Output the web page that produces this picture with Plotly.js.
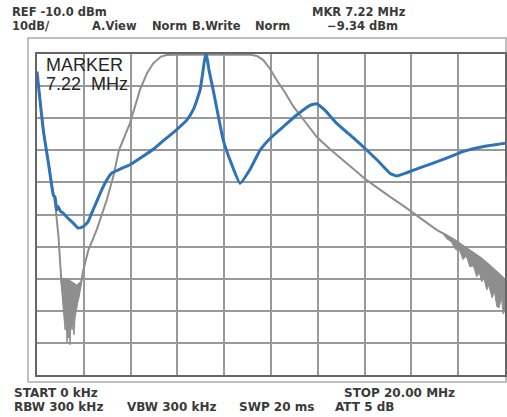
<!DOCTYPE html>
<html>
<head>
<meta charset="utf-8">
<script src="https://cdn.plot.ly/plotly-3.0.1.min.js"></script>
<style>html,body{margin:0;padding:0;background:#fff;}#chart{width:507px;height:417px;}</style>
</head>
<body>
<div id="chart"></div>
<script>
// Frequency in MHz, level in dBm
var blueFreq = [0.0, 0.27, 0.5, 0.7, 0.77, 0.84, 0.9, 1.0, 1.11, 1.3, 1.54, 1.75, 1.9, 2.05, 2.2, 2.34, 2.55, 2.76, 3.0, 3.19, 3.5, 3.97, 4.5, 5.0, 5.4, 5.9, 6.4, 6.7, 6.97, 7.1, 7.22, 7.35, 7.53, 7.96, 8.3, 8.68, 9.1, 9.53, 10.0, 10.53, 11.1, 11.67, 11.95, 12.3, 12.81, 13.5, 14.09, 14.6, 15.09, 15.37, 15.8, 16.5, 17.3, 18.2, 19.1, 20.0];
var blueLevel = [-15.5, -33.7, -44.5, -54.0, -54.5, -58.6, -57.5, -59.0, -59.5, -61.0, -62.6, -64.2, -64.0, -63.3, -62.0, -59.5, -56.0, -52.4, -49.0, -47.1, -46.0, -44.5, -42.0, -39.5, -37.0, -34.0, -30.6, -27.0, -21.2, -15.0, -9.34, -15.0, -21.2, -36.8, -44.0, -50.3, -46.0, -40.0, -36.0, -32.6, -29.0, -26.0, -25.5, -27.5, -31.6, -36.0, -39.9, -43.5, -47.2, -48.0, -47.0, -45.1, -43.0, -40.4, -38.8, -37.8];

// main gray response
var grayFreq = [0.0, 0.27, 0.5, 0.7, 0.78, 0.85, 0.92, 0.98, 1.05, 1.4, 1.75, 1.98, 2.2, 2.55, 2.98, 3.26, 3.5, 3.97, 4.4, 4.7, 4.97, 5.3, 5.54, 6.0, 7.0, 8.0, 9.1, 9.4, 9.67, 9.95, 10.24, 10.6, 10.96, 11.5, 11.95, 12.5, 13.09, 13.6, 14.09, 14.6, 15.09, 15.6, 16.09, 16.6, 17.08, 17.5, 17.9, 18.3, 18.7, 19.1, 19.5, 19.8, 20.0];
var grayLevel = [-15.5, -33.7, -44.5, -54.0, -57.0, -62.0, -67.0, -74.0, -81.4, -84.0, -86.6, -77.3, -71.0, -64.8, -55.5, -48.2, -40.0, -31.6, -21.2, -16.0, -12.9, -10.8, -10.3, -10.2, -10.2, -10.2, -10.2, -10.6, -11.9, -14.5, -18.1, -22.0, -26.4, -31.5, -35.8, -39.5, -43.0, -46.3, -49.3, -52.0, -54.5, -57.0, -59.6, -62.2, -64.8, -66.5, -69.0, -71.0, -73.0, -75.0, -77.5, -79.0, -80.5];

// noisy clump at the low-frequency notch (outline)
var noiseLowFreq = [1.0, 1.05, 1.11, 1.2, 1.25, 1.28, 1.32, 1.35, 1.38, 1.41, 1.45, 1.5, 1.54, 1.58, 1.63, 1.67, 1.75, 1.85, 1.92, 1.7, 1.5, 1.3, 1.1, 1.0];
var noiseLowLevel = [-79.0, -84.0, -89.7, -96.0, -93.0, -100.0, -97.0, -98.5, -95.0, -100.6, -94.0, -96.0, -91.0, -97.5, -92.0, -90.4, -86.6, -82.0, -80.4, -82.0, -81.0, -80.0, -80.0, -79.0];

// noisy band at the high-frequency end (outline)
var noiseHighFreq = [17.3, 17.8, 18.2, 18.6, 19.0, 19.4, 19.7, 20.0, 20.0, 19.92, 19.85, 19.75, 19.65, 19.55, 19.45, 19.3, 19.22, 19.1, 19.0, 18.9, 18.79, 18.65, 18.5, 18.35, 18.2, 18.05, 17.9, 17.7, 17.5, 17.3];
var noiseHighLevel = [-65.5, -67.5, -69.5, -71.5, -73.5, -76.0, -78.0, -80.0, -90.0, -91.0, -86.0, -89.0, -88.7, -84.0, -86.0, -82.0, -83.5, -80.0, -81.0, -78.0, -79.4, -76.0, -76.3, -73.0, -74.0, -71.0, -71.0, -68.5, -67.5, -65.5];

var markerFreq = [7.22];
var markerLevel = [-9.34];

var headerLine1 = [["REF -10.0 dBm", 10, 12], ["MKR 7.22 MHz", 310, 12]];
var headerLine2 = [["10dB/", 10, 26.5], ["A.View", 90, 26.5], ["Norm", 150, 26.5], ["B.Write", 190, 26.5], ["Norm", 253, 26.5], ["\u22129.34 dBm", 325, 26.5]];
var footerLine1 = [["START 0 kHz", 12, 393], ["STOP 20.00 MHz", 342, 393]];
var footerLine2 = [["RBW 300 kHz", 12, 407], ["VBW 300 kHz", 125, 407], ["SWP 20 ms", 237, 407], ["ATT 5 dB", 333, 407]];
var markerLabel = [["MARKER", 44, 65], ["7.22  MHz", 44, 84]];

var L = 37, R = 505, T = 54, B = 375;
function px(x){ return (x - L) / (R - L); }
function py(y){ return (B - y) / (B - T); }

var annotations = [];
function addTexts(list, family, size, color, weight){
  list.forEach(function(t){
    annotations.push({text: t[0], xref: 'paper', yref: 'paper', x: px(t[1]), y: py(t[2]),
      xanchor: 'left', yanchor: 'middle', showarrow: false,
      font: {family: family, size: size, color: color, weight: weight}});
  });
}
var small = 'DejaVu Sans, sans-serif';
addTexts(headerLine1, small, 11.5, '#3a3a3a', 'bold');
addTexts(headerLine2, small, 11.5, '#3a3a3a', 'bold');
addTexts(footerLine1, small, 12, '#3a3a3a', 'bold');
addTexts(footerLine2, small, 12, '#3a3a3a', 'bold');
addTexts(markerLabel, 'Liberation Sans, Arial, sans-serif', 18, '#262626', 'normal');

var traces = [
  {x: noiseLowFreq, y: noiseLowLevel, type: 'scatter', mode: 'lines', fill: 'toself', fillcolor: '#8e8e8e', line: {color: '#8e8e8e', width: 1}, hoverinfo: 'skip'},
  {x: noiseHighFreq, y: noiseHighLevel, type: 'scatter', mode: 'lines', fill: 'toself', fillcolor: '#8e8e8e', line: {color: '#8e8e8e', width: 1}, hoverinfo: 'skip'},
  {x: grayFreq, y: grayLevel, type: 'scatter', mode: 'lines', line: {color: '#8e8e8e', width: 2}, hoverinfo: 'skip'},
  {x: blueFreq, y: blueLevel, type: 'scatter', mode: 'lines', line: {color: '#2e72b8', width: 3, shape: 'spline', smoothing: 0.4}, hoverinfo: 'skip'},
  {x: markerFreq, y: markerLevel, type: 'scatter', mode: 'markers', marker: {color: '#1f4f8f', size: 6}, cliponaxis: false, hoverinfo: 'skip'}
];

var layout = {
  width: 507, height: 417,
  margin: {l: L, r: 507 - R, t: T, b: 417 - B, pad: 0},
  paper_bgcolor: '#ffffff', plot_bgcolor: '#ffffff',
  showlegend: false,
  xaxis: {range: [0, 20], tick0: 0, dtick: 2, showticklabels: false, ticks: '', showgrid: true,
    gridcolor: '#999999', gridwidth: 2, zeroline: false, showline: true, mirror: true, linecolor: '#666666', linewidth: 2, fixedrange: true},
  yaxis: {range: [-110, -10], tick0: -10, dtick: 10, showticklabels: false, ticks: '', showgrid: true,
    gridcolor: '#999999', gridwidth: 2, zeroline: false, showline: true, mirror: true, linecolor: '#666666', linewidth: 2, fixedrange: true},
  shapes: [
    {type: 'rect', xref: 'paper', yref: 'paper', x0: px(28), x1: px(506), y0: py(382), y1: py(38),
     line: {color: '#aaaaaa', width: 1.5}, fillcolor: 'rgba(0,0,0,0)', layer: 'below'}
  ],
  annotations: annotations
};

Plotly.newPlot('chart', traces, layout, {staticPlot: true, displayModeBar: false});
</script>
</body>
</html>
